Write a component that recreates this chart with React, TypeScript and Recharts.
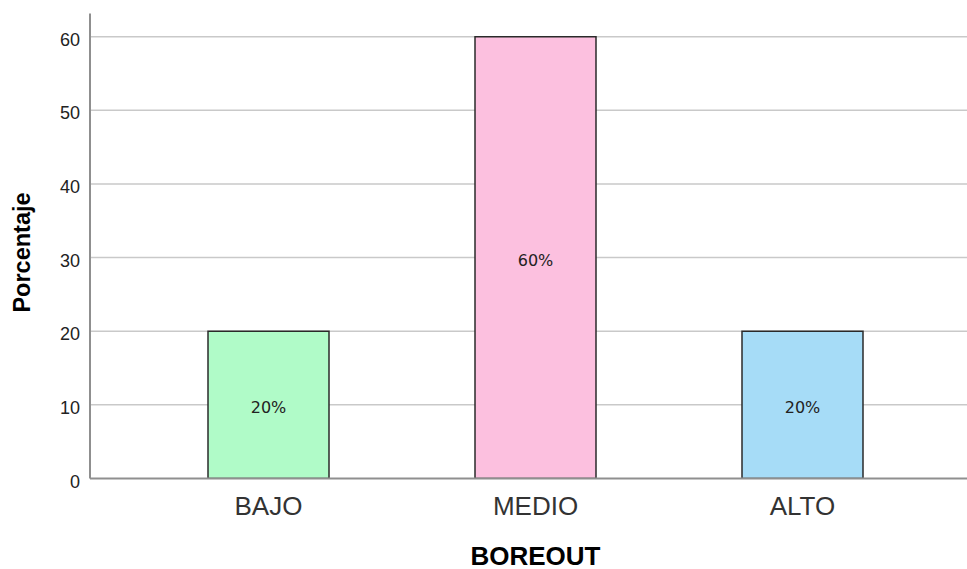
import React from "react";
import { BarChart, Bar, XAxis, YAxis, CartesianGrid, Cell, LabelList } from "recharts";

// Boreout levels and the percentage of respondents in each
const categories = ["BAJO", "MEDIO", "ALTO"];
const percentages = [20, 60, 20];
const barColors = ["#b0fbc8", "#fcc0df", "#a6dcf7"];
const yTicks = [0, 10, 20, 30, 40, 50, 60];
const gridValues = [10, 20, 30, 40, 50, 60];

const data = categories.map((name, i) => ({ name, value: percentages[i] }));

const FONT = "'Liberation Sans', Arial, sans-serif";
const VALUE_FONT = "'DejaVu Sans', Verdana, sans-serif";

// x padding keeps the category bands clear of the y axis line
const X_PAD_LEFT = 45;
const X_PAD_RIGHT = 31;

const YTick = ({ x, y, payload }: any) => (
  <text
    x={x}
    y={y + 3}
    textAnchor="end"
    dominantBaseline="central"
    fontFamily={FONT}
    fontSize={18}
    fill="#222"
  >
    {payload.value}
  </text>
);

const XTick = ({ x, y, payload }: any) => (
  <text
    x={x}
    y={y + 25.5}
    textAnchor="middle"
    dominantBaseline="central"
    fontFamily={FONT}
    fontSize={26}
    fill="#333"
  >
    {payload.value}
  </text>
);

export default function App() {
  return (
    <div style={{ position: "absolute", left: 0, top: 0, background: "#fff" }}>
      <BarChart
        width={967}
        height={569}
        data={data}
        margin={{ top: 13.5, right: 0, bottom: 30.5, left: 30 }}
        barCategoryGap={0}
      >
        <CartesianGrid
          vertical={false}
          horizontalValues={gridValues}
          stroke="#c9c9c9"
          strokeWidth={1.5}
        />
        <XAxis
          dataKey="name"
          height={60}
          padding={{ left: X_PAD_LEFT, right: X_PAD_RIGHT }}
          tickLine={false}
          tickSize={0}
          axisLine={{ stroke: "#8f8f8f", strokeWidth: 2 }}
          tick={<XTick />}
          label={{
            content: ({ viewBox }: any) => (
              <text
                x={viewBox.x + X_PAD_LEFT + (viewBox.width - X_PAD_LEFT - X_PAD_RIGHT) / 2}
                y={555.5}
                textAnchor="middle"
                dominantBaseline="central"
                fontFamily={FONT}
                fontWeight="bold"
                fontSize={26}
                fill="#000"
              >
                BOREOUT
              </text>
            ),
          }}
        />
        <YAxis
          width={60}
          domain={[0, 63.15]}
          ticks={yTicks}
          allowDataOverflow
          tickLine={false}
          tickSize={0}
          tickMargin={10}
          axisLine={{ stroke: "#8f8f8f", strokeWidth: 2 }}
          tick={<YTick />}
          label={{
            content: ({ viewBox }: any) => {
              const cx = 22;
              const cy = viewBox.y + viewBox.height / 2 + 6.5;
              return (
                <text
                  x={cx}
                  y={cy}
                  transform={`rotate(-90 ${cx} ${cy})`}
                  textAnchor="middle"
                  dominantBaseline="central"
                  fontFamily={FONT}
                  fontWeight="bold"
                  fontSize={23.5}
                  fill="#000"
                >
                  Porcentaje
                </text>
              );
            },
          }}
        />
        <Bar dataKey="value" barSize={121} isAnimationActive={false} stroke="#2a2a2a" strokeWidth={1.5}>
          {data.map((d, i) => (
            <Cell key={d.name} fill={barColors[i]} />
          ))}
          <LabelList
            dataKey="value"
            position="center"
            content={({ x, y, width, height, value }: any) => (
              <text
                x={x + width / 2}
                y={y + height / 2 + 3}
                textAnchor="middle"
                dominantBaseline="central"
                fontFamily={VALUE_FONT}
                fontSize={16}
                fill="#222"
              >
                {`${value}%`}
              </text>
            )}
          />
        </Bar>
      </BarChart>
    </div>
  );
}
